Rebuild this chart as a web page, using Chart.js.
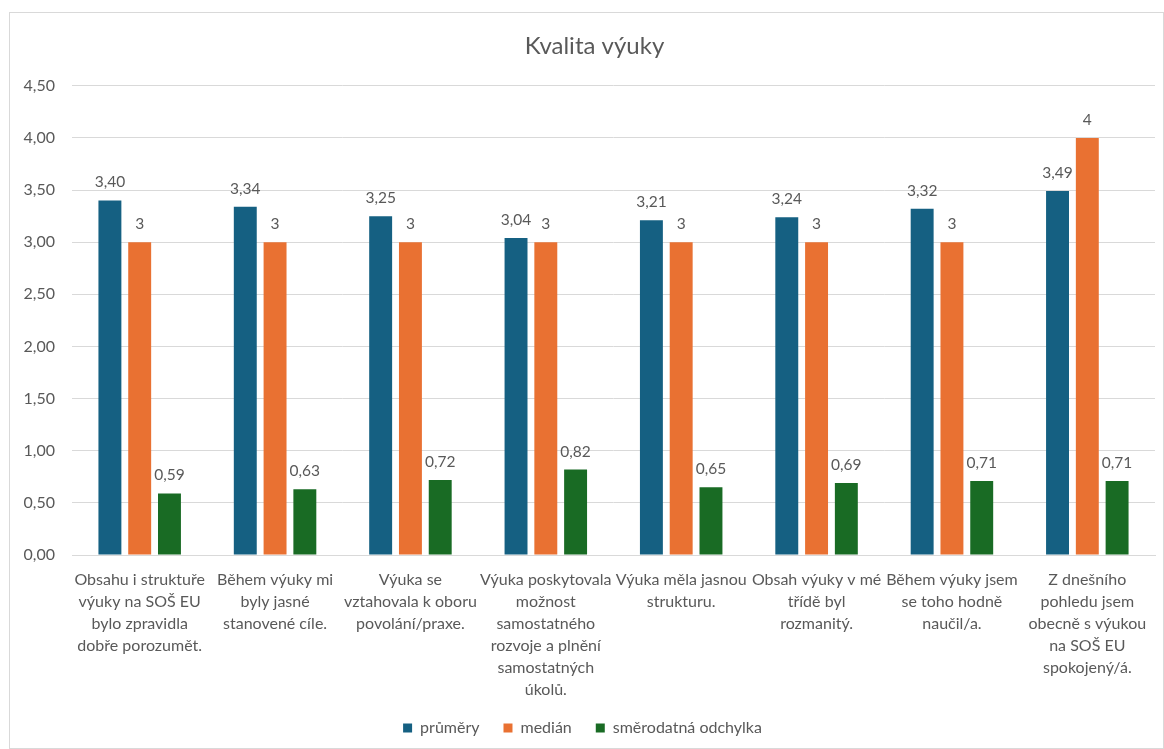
<!DOCTYPE html>
<html>
<head>
<meta charset="utf-8">
<script src="https://cdn.jsdelivr.net/npm/chart.js@4/dist/chart.umd.min.js"></script>
<style>
  html, body { margin: 0; padding: 0; background: #fff; }
  #frame {
    position: absolute; left: 9px; top: 12px;
    width: 1153px; height: 735px;
    border: 1px solid #d9d9d9; background: #fff;
  }
  #chart { display: block; }
</style>
</head>
<body>
<div id="frame"><canvas id="chart" width="1153" height="735"></canvas></div>
<script>
const chartTitle = 'Kvalita výuky';

const categories = [
  ['Obsahu i struktuře', 'výuky na SOŠ EU', 'bylo zpravidla', 'dobře porozumět.'],
  ['Během výuky mi', 'byly jasné', 'stanovené cíle.'],
  ['Výuka se', 'vztahovala k oboru', 'povolání/praxe.'],
  ['Výuka poskytovala', 'možnost', 'samostatného', 'rozvoje a plnění', 'samostatných', 'úkolů.'],
  ['Výuka měla jasnou', 'strukturu.'],
  ['Obsah výuky v mé', 'třídě byl', 'rozmanitý.'],
  ['Během výuky jsem', 'se toho hodně', 'naučil/a.'],
  ['Z dnešního', 'pohledu jsem', 'obecně s výukou', 'na SOŠ EU', 'spokojený/á.']
];

const seriesNames = ['průměry', 'medián', 'směrodatná odchylka'];
const prumery = [3.40, 3.34, 3.25, 3.04, 3.21, 3.24, 3.32, 3.49];
const median = [3, 3, 3, 3, 3, 3, 3, 4];
const smerodatnaOdchylka = [0.59, 0.63, 0.72, 0.82, 0.65, 0.69, 0.71, 0.71];
const yTicks = [0, 0.5, 1, 1.5, 2, 2.5, 3, 3.5, 4, 4.5];

const colors = ['#156082', '#E97132', '#196B24'];
const labelDecimals = [2, 0, 2];
const textColor = '#595959';
const fontFamily = 'Lato, "Open Sans", sans-serif';

function czNumber(v, d) {
  return v.toFixed(d).replace('.', ',');
}

// Value labels drawn above each bar
const barValueLabels = {
  id: 'barValueLabels',
  afterDatasetsDraw(chart) {
    const ctx = chart.ctx;
    ctx.save();
    ctx.fillStyle = textColor;
    ctx.font = '15.5px ' + fontFamily;
    ctx.textAlign = 'center';
    ctx.textBaseline = 'alphabetic';
    chart.data.datasets.forEach((ds, i) => {
      const meta = chart.getDatasetMeta(i);
      meta.data.forEach((bar, j) => {
        ctx.fillText(czNumber(ds.data[j], labelDecimals[i]), bar.x, bar.y - 13);
      });
    });
    ctx.restore();
  }
};

// Title text, drawn slightly right of the canvas centre (the built-in title only reserves its space)
const titleText = {
  id: 'titleText',
  afterDraw(chart) {
    const t = chart.titleBlock;
    const ctx = chart.ctx;
    ctx.save();
    ctx.fillStyle = textColor;
    ctx.font = '24px ' + fontFamily;
    ctx.textAlign = 'center';
    ctx.textBaseline = 'middle';
    ctx.fillText(chartTitle, chart.width / 2 + 8, t.top + t.height / 2 + (t.options.padding.top - t.options.padding.bottom) / 2);
    ctx.restore();
  }
};

const seriesData = [prumery, median, smerodatnaOdchylka];

new Chart(document.getElementById('chart'), {
  type: 'bar',
  data: {
    labels: categories,
    datasets: seriesNames.map((name, i) => ({
      label: name,
      data: seriesData[i],
      backgroundColor: colors[i],
      borderWidth: 0,
      categoryPercentage: 0.66,
      barPercentage: 0.77
    }))
  },
  options: {
    responsive: false,
    animation: false,
    layout: { padding: { left: 0, right: 8, top: 0, bottom: 2 } },
    plugins: {
      title: {
        display: true,
        text: chartTitle,
        color: 'rgba(0,0,0,0)',
        font: { family: fontFamily, size: 24, weight: 'normal' },
        padding: { top: 19, bottom: 25 }
      },
      legend: {
        position: 'bottom',
        labels: {
          color: textColor,
          font: { family: fontFamily, size: 16 },
          boxWidth: 9,
          boxHeight: 9,
          padding: 24
        }
      },
      tooltip: { enabled: false }
    },
    scales: {
      x: {
        grid: { display: false },
        border: { display: true, color: '#d9d9d9', width: 1 },
        ticks: {
          color: textColor,
          font: { family: fontFamily, size: 16, lineHeight: 1.37 },
          maxRotation: 0,
          autoSkip: false,
          padding: 6
        },
        afterFit(scale) { scale.height = 141; }
      },
      y: {
        min: 0,
        max: 4.5,
        afterBuildTicks(scale) { scale.ticks = yTicks.map(v => ({ value: v })); },
        grid: { color: '#d9d9d9', drawTicks: false },
        border: { display: false },
        ticks: {
          color: textColor,
          font: { family: fontFamily, size: 16 },
          padding: 17,
          callback: v => czNumber(v, 2)
        },
        afterFit(scale) { scale.width = 62; }
      }
    }
  },
  plugins: [barValueLabels, titleText]
});
</script>
</body>
</html>
